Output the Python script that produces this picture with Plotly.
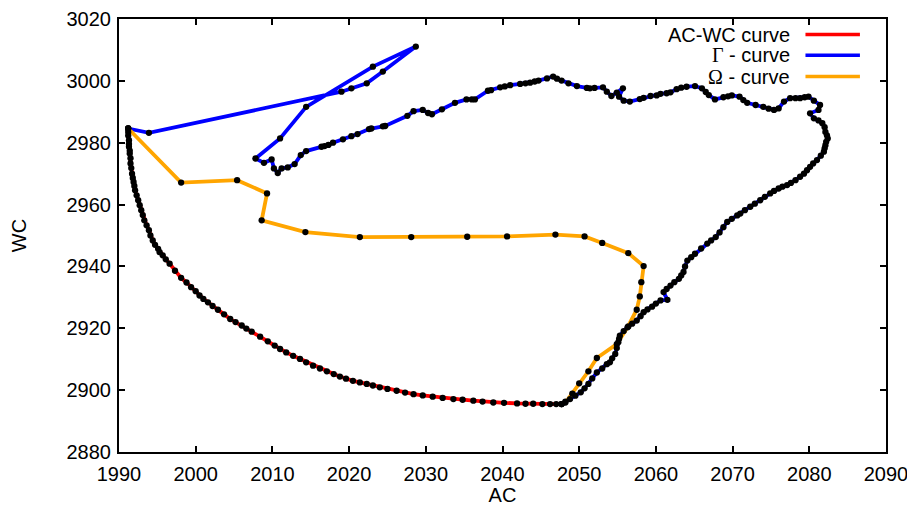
import plotly.graph_objects as go

# AC-WC curve (red)
acwc_x = [1991.2,1991.2,1991.2,1991.3,1991.3,1991.3,1991.4,1991.4,1991.5,1991.5,1991.6,1991.7,1991.8,1991.9,1992.0,1992.1,1992.3,1992.5,1992.7,1992.9,1993.1,1993.3,1993.6,1993.9,1994.1,1994.4,1994.7,1995.1,1995.3,1995.7,1996.1,1996.6,1997.3,1998.1,1998.8,1999.4,2000.0,2000.5,2001.0,2001.6,2002.2,2002.9,2003.7,2004.5,2005.2,2006.0,2006.6,2007.3,2008.4,2009.4,2010.3,2011.0,2011.8,2012.7,2013.6,2014.4,2015.3,2016.2,2017.1,2018.0,2018.8,2019.6,2020.5,2021.4,2022.3,2023.1,2024.0,2025.0,2026.2,2027.3,2028.4,2029.6,2030.9,2032.2,2033.6,2034.8,2036.2,2037.4,2038.8,2040.2,2041.9,2043.0,2044.0,2045.2,2046.2,2047.0,2047.7]
acwc_y = [2984.6,2983.5,2982.3,2980.8,2979.6,2978.7,2977.4,2976.5,2975.0,2973.3,2971.8,2970.0,2968.6,2967.3,2966.0,2964.6,2963.0,2961.4,2959.8,2958.2,2956.6,2954.9,2953.3,2951.7,2950.0,2948.4,2947.0,2945.7,2944.6,2943.6,2942.3,2940.9,2938.6,2936.3,2934.8,2933.3,2932.0,2930.6,2929.5,2928.4,2927.2,2926.0,2924.5,2923.0,2922.0,2920.9,2919.9,2918.9,2917.3,2915.8,2914.4,2913.3,2912.2,2911.1,2910.1,2909.0,2907.9,2907.0,2906.1,2905.2,2904.4,2903.7,2903.0,2902.5,2902.0,2901.5,2900.9,2900.4,2899.8,2899.2,2898.7,2898.3,2897.9,2897.5,2897.1,2896.9,2896.6,2896.3,2896.0,2895.9,2895.7,2895.6,2895.6,2895.5,2895.5,2895.5,2895.5]

# Gamma curve (blue)
gamma_x = [1991.2,1993.9,2019.0,2020.3,2022.3,2024.4,2028.7,2023.1,2014.4,2011.0,2007.8,2008.9,2009.9,2010.2,2010.7,2011.2,2012.0,2012.9,2013.7,2014.4,2016.4,2016.8,2017.3,2017.9,2019.2,2020.3,2021.1,2022.6,2022.9,2024.4,2024.7,2027.6,2028.4,2029.6,2030.3,2030.8,2032.1,2033.8,2035.3,2036.0,2036.4,2038.1,2038.5,2039.7,2040.3,2041.0,2042.3,2043.0,2043.6,2044.2,2044.7,2045.8,2046.6,2047.1,2047.7,2048.6,2049.7,2051.0,2051.4,2052.0,2053.1,2053.6,2054.2,2054.9,2055.7,2055.2,2055.8,2056.6,2057.9,2058.4,2059.3,2060.1,2060.6,2061.4,2061.9,2062.7,2063.3,2064.0,2065.1,2066.0,2066.5,2066.9,2067.7,2068.8,2069.4,2069.9,2070.9,2071.4,2071.9,2073.0,2074.0,2074.7,2075.4,2076.0,2076.7,2077.5,2078.2,2078.8,2079.4,2079.9,2080.6,2081.4,2081.2,2080.1,2080.6,2081.2,2081.7,2082.0,2082.1,2082.3,2082.4,2082.2,2082.1,2082.0,2081.9,2081.5,2081.0,2080.5,2080.1,2079.7,2079.3,2078.8,2078.2,2077.6,2077.1,2076.5,2076.0,2075.4,2074.9,2074.2,2073.6,2072.9,2072.3,2071.6,2071.0,2070.6,2069.9,2069.3,2068.8,2068.3,2067.8,2067.2,2066.7,2065.9,2065.1,2064.6,2064.1,2063.8,2063.6,2063.3,2063.0,2062.4,2061.9,2061.4,2061.0,2061.5,2060.6,2060.0,2059.5,2058.9,2058.4,2058.0,2057.5,2056.9,2056.4,2055.8,2055.3,2055.2,2055.1,2054.9,2054.7,2054.3,2054.0,2053.6,2053.0,2052.3,2051.7,2051.2,2050.7,2050.2,2049.5,2048.8,2048.2,2047.7]
gamma_y = [2984.6,2983.2,2996.5,2997.6,2999.2,3003.0,3011.1,3004.6,2991.6,2981.4,2974.9,2973.5,2974.6,2971.7,2970.2,2971.7,2972.0,2973.1,2976.0,2977.3,2978.7,2978.9,2979.3,2980.0,2981.1,2982.1,2982.8,2984.4,2984.6,2985.3,2985.4,2988.7,2990.2,2990.6,2989.6,2989.2,2990.8,2992.9,2994.0,2994.0,2994.0,2996.8,2997.0,2997.9,2998.2,2998.6,2999.0,2999.2,2999.4,2999.8,3000.1,3000.8,3001.4,3000.7,3000.1,2999.2,2998.3,2997.7,2997.6,2997.7,2997.9,2996.5,2995.1,2996.2,2997.6,2994.9,2993.6,2993.3,2994.1,2994.5,2995.1,2995.3,2995.8,2996.0,2996.3,2997.3,2997.8,2998.1,2998.3,2997.6,2996.4,2995.4,2994.0,2994.7,2995.0,2995.3,2994.9,2993.8,2992.9,2992.2,2991.6,2991.0,2990.6,2991.1,2993.3,2994.4,2994.4,2994.4,2994.7,2994.9,2993.6,2992.2,2990.6,2989.5,2987.9,2987.2,2986.3,2985.0,2983.5,2982.4,2981.4,2980.3,2979.2,2978.2,2977.1,2975.8,2974.4,2973.3,2972.2,2971.1,2970.0,2969.0,2967.9,2967.0,2966.3,2965.8,2965.2,2964.4,2963.6,2962.5,2961.4,2960.3,2959.3,2958.2,2957.1,2956.5,2955.4,2954.4,2952.7,2951.0,2949.5,2948.4,2947.4,2945.8,2944.1,2943.0,2941.9,2940.0,2938.2,2937.1,2936.0,2934.9,2933.8,2932.7,2931.7,2929.2,2929.0,2928.0,2927.0,2926.1,2925.2,2923.9,2922.5,2921.5,2920.6,2919.1,2917.6,2916.6,2915.5,2913.6,2911.7,2910.3,2909.0,2908.4,2907.0,2905.7,2903.8,2902.0,2900.6,2899.3,2898.2,2897.1,2896.3,2895.5]

# Omega curve (orange)
omega_x = [1991.2,1998.1,2005.4,2009.3,2008.6,2014.3,2021.4,2028.1,2035.4,2040.6,2046.9,2050.7,2053.0,2056.4,2058.4,2058.1,2057.9,2057.5,2056.3,2054.9,2052.3,2051.2,2050.0,2049.1,2048.2,2047.7]
omega_y = [2984.6,2967.1,2967.9,2963.6,2954.9,2951.1,2949.5,2949.5,2949.6,2949.7,2950.3,2949.7,2947.6,2944.3,2940.1,2934.9,2930.3,2926.0,2920.3,2914.9,2910.4,2906.1,2902.2,2898.9,2896.0,2895.5]

legend_labels = ["AC-WC curve",
                 "<span style='font-family:Liberation Serif, serif'>\u0393</span> - curve",
                 "<span style='font-family:Liberation Serif, serif'>\u03A9</span> - curve"]
colors = ["#FF0000", "#0000FF", "#FFA500"]
series = [(acwc_x, acwc_y), (gamma_x, gamma_y), (omega_x, omega_y)]

x_ticks = list(range(1990, 2091, 10))
y_ticks = list(range(2880, 3021, 20))

fig = go.Figure()
for (xs, ys), c in zip(series, colors):
    fig.add_trace(go.Scatter(x=xs, y=ys, mode="lines", showlegend=False,
                             line=dict(color=c, width=3.8)))
for (xs, ys) in series:
    fig.add_trace(go.Scatter(x=xs, y=ys, mode="markers", showlegend=False,
                             marker=dict(color="black", size=6.3)))

font = "Liberation Sans, Arial, sans-serif"
FS = 20
# legend drawn as annotations + short line samples (text left of sample)
row_y = [0.964, 0.916, 0.867]
for lab, c, yy in zip(legend_labels, colors, row_y):
    fig.add_annotation(x=0.877, y=yy, xref="paper", yref="paper", text=lab,
                       showarrow=False, xanchor="right", yanchor="middle",
                       font=dict(size=FS, color="black", family=font))
    fig.add_shape(type="line", xref="paper", yref="paper", x0=0.895, x1=0.966,
                  y0=yy, y1=yy, line=dict(color=c, width=3.5))

axis_common = dict(showgrid=False, zeroline=False, showline=True, linecolor="black",
                   linewidth=2, mirror="allticks", ticks="inside", ticklen=6,
                   tickwidth=1.5, tickcolor="black", automargin=False,
                   ticklabeloverflow="allow",
                   tickfont=dict(size=FS, color="black", family=font))
fig.update_xaxes(range=[1990, 2090], tickvals=x_ticks, ticklabelstandoff=3,
                 title=dict(text="AC", font=dict(size=FS, family=font, color="black"), standoff=17),
                 **axis_common)
fig.update_yaxes(range=[2880, 3020], tickvals=y_ticks, ticklabelstandoff=2,
                 title=dict(text="WC", font=dict(size=FS, family=font, color="black"), standoff=36),
                 **axis_common)
fig.update_layout(width=899, height=498, plot_bgcolor="white", paper_bgcolor="white",
                  margin=dict(l=110.8, r=20.5, t=10.5, b=53.5), showlegend=False)
fig.write_html("out.html")
